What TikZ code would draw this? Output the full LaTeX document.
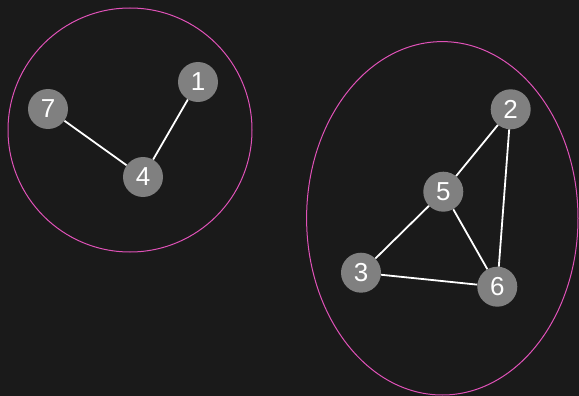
\documentclass[tikz,border=0pt]{standalone}
\usepackage{fontspec}
\setmainfont{Liberation Sans}
\definecolor{bgc}{HTML}{1A1A1A}
\definecolor{nodec}{HTML}{808080}
\definecolor{ringc}{HTML}{E052B8}
\begin{document}
\begin{tikzpicture}[x=1pt,y=-1pt,
  vert/.style={circle,fill=nodec,minimum size=40pt,inner sep=0pt,text=white,font=\fontsize{26}{26}\selectfont},
  link/.style={draw=white,line width=1.8pt},
  ring/.style={draw=ringc,line width=1pt}]
\fill[bgc] (0,0) rectangle (579,396);
\useasboundingbox (0,0) rectangle (579,396);
\draw[ring] (130,130) ellipse [x radius=122, y radius=122];
\draw[ring] (442.3,218.3) ellipse [x radius=135.7, y radius=176.7];
\node[vert] (n1) at (198,82) {1};
\node[vert] (n7) at (48,109) {7};
\node[vert] (n4) at (143,177) {4};
\node[vert] (n2) at (510.7,109.3) {2};
\node[vert] (n5) at (443.3,191.7) {5};
\node[vert] (n3) at (361,272.7) {3};
\node[vert] (n6) at (497.3,286.7) {6};
\draw[link] (n1) -- (n4);
\draw[link] (n7) -- (n4);
\draw[link] (n2) -- (n5);
\draw[link] (n2) -- (n6);
\draw[link] (n5) -- (n3);
\draw[link] (n5) -- (n6);
\draw[link] (n3) -- (n6);
\end{tikzpicture}
\end{document}
